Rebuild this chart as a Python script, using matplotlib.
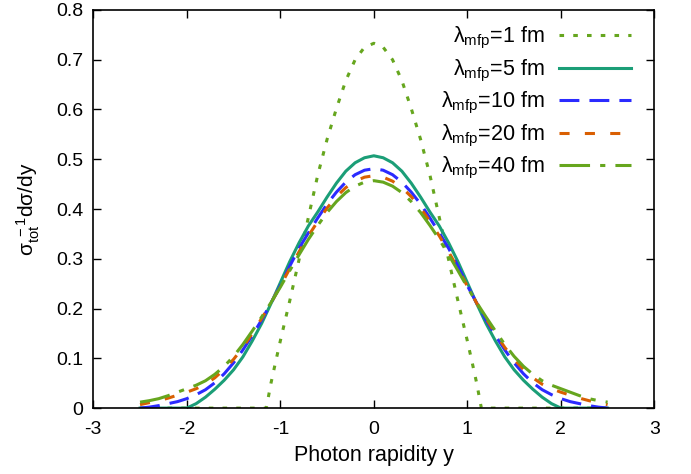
import matplotlib
matplotlib.use("Agg")
import matplotlib.pyplot as plt
import numpy as np

plt.rcParams['font.family'] = ['Liberation Sans', 'DejaVu Sans']
plt.rcParams['mathtext.fontset'] = 'custom'
plt.rcParams['mathtext.rm'] = 'Liberation Sans'
plt.rcParams['mathtext.it'] = 'Liberation Sans:italic'
plt.rcParams['mathtext.sf'] = 'Liberation Sans'

# half profiles (y >= 0), curves are symmetric in rapidity
y_half = np.round(np.arange(0, 2.51, 0.1), 2)
y_half_1fm = [0.0, 0.1, 0.2, 0.3, 0.4, 0.5, 0.6, 0.7, 0.8, 0.9, 1.0, 1.05, 1.1, 1.15, 1.5, 2.0, 2.5]

v_1fm = [0.733, 0.725, 0.700, 0.658, 0.602, 0.540, 0.468, 0.383, 0.298, 0.215,
         0.135, 0.093, 0.050, 0.0, 0.0, 0.0, 0.0]
v_5fm = [0.507, 0.503, 0.493, 0.476, 0.452, 0.424, 0.394, 0.366, 0.332, 0.294,
         0.252, 0.210, 0.170, 0.135, 0.103, 0.077, 0.056, 0.038, 0.022, 0.009,
         0.0, 0.0, 0.0, 0.0, 0.0, 0.0]
v_10fm = [0.481, 0.478, 0.469, 0.454, 0.434, 0.410, 0.382, 0.352, 0.321, 0.285,
          0.246, 0.211, 0.177, 0.146, 0.117, 0.091, 0.069, 0.051, 0.037, 0.027,
          0.019, 0.013, 0.009, 0.005, 0.002, 0.0]
v_20fm = [0.467, 0.464, 0.456, 0.443, 0.425, 0.402, 0.375, 0.346, 0.314, 0.280,
          0.245, 0.211, 0.180, 0.150, 0.122, 0.098, 0.078, 0.061, 0.048, 0.039,
          0.032, 0.026, 0.020, 0.015, 0.011, 0.007]
v_40fm = [0.457, 0.454, 0.446, 0.433, 0.415, 0.393, 0.367, 0.339, 0.308, 0.276,
          0.243, 0.212, 0.183, 0.155, 0.128, 0.104, 0.084, 0.068, 0.055, 0.046,
          0.039, 0.032, 0.025, 0.019, 0.015, 0.012]

labels = [r'λ$_{\mathrm{mfp}}$=1 fm', r'λ$_{\mathrm{mfp}}$=5 fm', r'λ$_{\mathrm{mfp}}$=10 fm',
          r'λ$_{\mathrm{mfp}}$=20 fm', r'λ$_{\mathrm{mfp}}$=40 fm']
colors = ['#66a61e', '#1b9e77', '#2b2bff', '#d95f02', '#66a61e']
dashes = [(1.5, 3.0), (), (6.5, 3.3), (3.3, 5.0), (10, 3.3, 1.7, 3.3)]


def mirror(xh, vh):
    xh = np.asarray(xh, dtype=float)
    vh = np.asarray(vh, dtype=float)
    return np.concatenate([-xh[:0:-1], xh]), np.concatenate([vh[:0:-1], vh])


fig = plt.figure(figsize=(6.91, 4.74), dpi=100)
ax = fig.add_axes([0.135, 0.139, 0.812, 0.84])

series = [(y_half_1fm, v_1fm), (y_half, v_5fm), (y_half, v_10fm),
          (y_half, v_20fm), (y_half, v_40fm)]
for (xh, vh), lab, c, d in zip(series, labels, colors, dashes):
    x, v = mirror(xh, vh)
    line, = ax.plot(x, v, color=c, lw=2.2, label=lab)
    if d:
        line.set_dashes(d)

ax.set_xlim(-3, 3)
ax.set_ylim(0, 0.8)
ax.set_xticks(np.arange(-3, 4, 1))
ax.set_xticklabels([str(t) for t in range(-3, 4)])
yt = np.round(np.arange(0, 0.81, 0.1), 1)
ax.set_yticks(yt)
ax.set_yticklabels(['0'] + [f'{t:.1f}' for t in yt[1:]])
ax.tick_params(direction='in', top=True, right=True, length=6, width=1,
               labelsize=14)
ax.tick_params(axis='x', pad=9)
ax.tick_params(axis='y', pad=7)
for s in ax.spines.values():
    s.set_linewidth(1.2)

ax.set_xlabel('Photon rapidity y', fontsize=15.5, labelpad=5)
ax.set_ylabel(r'σ$_{\mathrm{tot}}^{\ -1}$dσ/dy', fontsize=15, labelpad=10)

ax.legend(loc='upper right', frameon=False, markerfirst=False, fontsize=15.5,
          handlelength=3.35, handletextpad=0.65, labelspacing=0.3,
          borderaxespad=0.3, bbox_to_anchor=(0.985, 1.0))

fig.savefig('out.png', dpi=100)
